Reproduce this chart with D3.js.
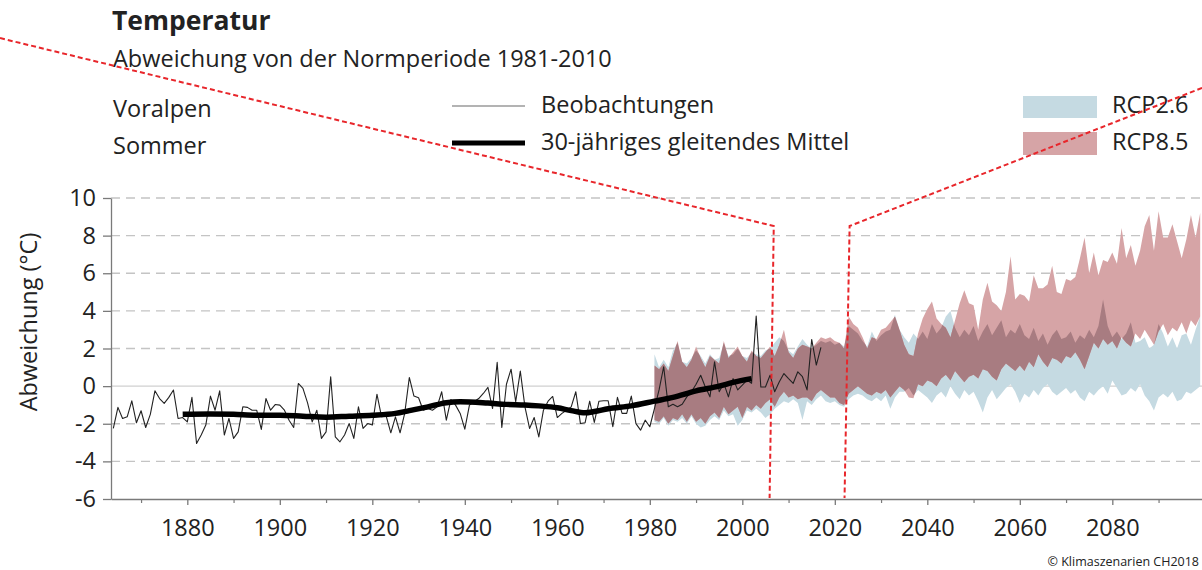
<!DOCTYPE html>
<html>
<head>
<meta charset="utf-8">
<script src="https://cdn.jsdelivr.net/npm/d3@7"></script>
<style>
  body { margin: 0; background: #fff; }
  svg text { font-family: "Open Sans", "Noto Sans", sans-serif; fill: #222; }
</style>
</head>
<body>
<svg id="chart" width="1202" height="570"></svg>
<script>
// observations, one value per summer from 1864
var obsStart = 1864;
var obsValues = [
  -2.25, -1.13, -1.72, -1.63, -0.78, -1.95, -1.31, -2.2, -1.5, -0.25,
  -0.66, -0.92, -0.6, -0.21, -1.72, -1.67, -1.9, -0.6, -3.05, -2.6,
  -2.07, -0.53, -1.28, -0.25, -2.6, -1.72, -2.78, -2.43, -1.1, -1.13,
  -1.28, -1.28, -2.3, -0.66, -1.28, -0.98, -1.01, -1.28, -1.81, -2.2,
  0.14, -0.12, -0.89, -1.9, -1.28, -2.78, -2.43, 0.5, -2.7, -2.96,
  -2.6, -1.99, -2.78, -1.1, -2.25, -1.99, -2.07, -0.43, -1.63, -1.6,
  -2.48, -1.63, -2.48, -1.45, 0.46, -0.53, -0.62, -1.28, -1.19, -1.28,
  -1.1, -0.3, -1.81, -0.71, -1.01, -1.45, -2.29, -1.01, -0.83, -0.66,
  -0.39, -0.07, -1.19, 1.26, -2.2, 0.1, 0.9, -0.83, 0.8, -1.1,
  -2.25, -1.67, -2.7, -1.28, -0.8, -0.55, -1.67, -1.45, -1.28, -1.1,
  -0.3, -1.99, -1.95, -0.8, -1.93, -0.8, -0.78, -0.78, -2.16, -0.6,
  -1.45, -1.45, -0.53, -1.99, -2.34, -1.81, -2.16, -1.2, -0.2, 1.03,
  -1.1, -0.96, -1.1, -0.96, -0.57, -0.3, 0.1, 0.58, -0.05, -0.57,
  1.29, -0.3, 0.15, -0.57, 0.4, -0.2, 0.05, 0.32, 0.15, 3.72,
  -0.05, -0.05, 0.58, -0.3, 0.23, 0.67, 0.4, 0.15, 0.76, 0.5,
  -0.2, 2.48, 1.12, 2.06
];

// 30-year running mean
var meanYears = [1879, 1885, 1890, 1895, 1900, 1905, 1910, 1915, 1920, 1925, 1928, 1932, 1936, 1939, 1945,
  1949, 1953, 1956, 1960, 1963, 1966, 1968, 1971, 1976, 1981, 1985, 1990, 1995, 1998, 2002];
var meanValues = [-1.5, -1.48, -1.5, -1.55, -1.55, -1.6, -1.65, -1.6, -1.55, -1.45, -1.3, -1.1, -0.88, -0.83, -0.9,
  -0.97, -1.0, -1.05, -1.15, -1.3, -1.42, -1.35, -1.2, -1.05, -0.8, -0.6, -0.25, 0.0, 0.2, 0.4];

// scenario ranges, one value per year from 1981
var scenStart = 1981;
var rcp85High = [
  1.1, 0.9, 1.2, 0.8, 1.6, 2.4, 1.3, 1.0, 1.4, 2.1,
  1.5, 1.0, 1.6, 1.4, 1.2, 2.4, 1.5, 1.8, 2.1, 1.6,
  1.3, 1.9, 1.6, 1.5, 1.8, 2.1, 1.6, 2.2, 3.0, 1.8,
  1.5, 2.0, 2.2, 2.1, 2.0, 2.3, 2.6, 2.5, 2.6, 2.4,
  2.3, 2.0, 3.7, 3.3, 3.1, 2.6, 2.0, 2.6, 2.5, 3.0,
  3.1, 3.4, 3.7, 3.0, 2.2, 1.7, 1.6, 2.8, 3.6, 4.1,
  4.5, 3.6, 3.3, 3.1, 2.6, 3.5, 4.4, 5.1, 4.4, 4.3,
  3.0, 4.6, 5.5, 4.5, 4.3, 4.0, 5.0, 6.9, 4.6, 4.9,
  4.8, 4.5, 5.9, 5.2, 5.2, 5.4, 6.4, 5.0, 4.9, 5.7,
  5.6, 5.8, 6.8, 7.9, 6.0, 7.1, 5.9, 6.7, 6.6, 7.1,
  6.5, 8.4, 6.8, 7.5, 6.4, 7.2, 8.5, 9.1, 7.2, 9.3,
  7.9, 7.9, 8.6, 7.7, 6.8, 7.8, 9.1, 7.9, 9.2
];
var rcp85Low = [
  -1.8, -1.9, -1.6, -2.0, -1.7, -1.8, -1.5, -1.9, -1.5, -1.9,
  -1.7, -2.0, -1.6, -1.4, -1.7, -1.1, -1.5, -1.3, -1.1, -1.7,
  -1.1, -1.3, -1.0, -1.2, -0.9, -0.7, -1.1, -0.6, -0.3, -0.6,
  -0.5, -0.7, -0.6, -0.6, -0.8, -0.4, -0.2, -0.4, -0.6, -0.6,
  -0.9, -1.0, -0.4, -0.2, 0.0, -0.2, -0.4, -0.5, -0.3, -0.4,
  -0.2, -0.6, -0.3, 0.0, -0.2, -0.6, -0.65, 0.1, 0.0, 0.3,
  0.2, 0.0, 0.4, 0.6, 0.3, 0.8, 0.5, 0.2, 0.5, 0.6,
  0.4, 0.9, 0.8, 0.5, 0.3, 0.9, 1.2, 1.0, 0.8, 1.1,
  0.8, 1.3, 1.0, 1.7, 1.3, 1.0, 1.5, 1.4, 1.2, 1.6,
  1.5, 1.8, 1.4, 0.9, 1.6, 2.3, 2.0, 2.5, 2.2, 2.4,
  2.0, 2.6, 2.3, 2.1, 2.8, 2.5, 3.0, 2.6, 2.2, 2.9,
  3.3, 2.7, 3.1, 2.9, 3.4, 2.8, 3.5, 3.2, 3.7
];
var rcp26High = [
  1.7, 1.0, 1.4, 1.0, 1.9, 2.3, 1.3, 1.2, 1.5, 1.9,
  1.6, 1.2, 1.7, 1.4, 1.5, 2.3, 1.6, 1.7, 2.0, 1.6,
  1.5, 1.8, 1.7, 1.6, 1.9, 2.0, 2.3, 2.6, 2.4, 1.9,
  1.7, 2.1, 2.5, 2.2, 2.0, 2.2, 2.4, 2.3, 2.4, 2.2,
  2.3, 2.1, 3.2, 3.0, 2.8, 2.4, 2.1, 2.9, 2.4, 2.7,
  2.9, 3.0, 3.8, 3.0, 2.6, 2.3, 2.8, 2.5, 2.9, 2.5,
  3.3, 2.8, 3.1, 3.7, 4.0, 3.1, 2.6, 3.0, 2.7, 3.2,
  2.4, 2.9, 3.3, 2.7, 3.1, 3.5, 2.6, 3.0, 2.8, 3.3,
  2.7, 2.5, 3.1, 2.4, 2.8, 2.2, 2.7, 3.0, 2.5, 2.6,
  2.9, 2.3, 2.7, 2.5, 3.0, 2.6, 3.2, 4.6, 3.2, 2.6,
  2.9, 2.5, 2.8, 3.4, 2.3, 2.4, 2.6, 2.0, 2.2, 3.3,
  2.8, 2.1, 2.6, 2.0, 2.7, 2.8, 2.2, 3.0, 3.7
];
var rcp26Low = [
  -1.9, -2.0, -1.7, -2.1, -1.8, -1.9, -1.7, -2.0, -1.6, -2.0,
  -2.2, -2.1, -1.8, -1.6, -1.8, -1.3, -1.6, -1.5, -2.1, -1.8,
  -1.3, -1.4, -1.2, -1.4, -1.7, -1.5, -1.2, -1.0, -0.8, -0.9,
  -0.7, -0.9, -1.8, -0.8, -1.0, -0.7, -0.5, -0.8, -0.9, -0.8,
  -1.0, -1.1, -0.7, -0.5, -0.4, -0.5, -0.7, -0.8, -0.6, -0.8,
  -0.5, -1.2, -0.6, -0.3, -0.3, -0.1, -0.5, -0.2, -0.4, -0.6,
  -0.9, -0.5, -0.3, -0.6, 0.0, -0.4, -0.7, -0.2, -0.5, -0.3,
  -0.8, -1.4, -0.6, -0.2, -0.7, -0.4, -0.1, 0.1, -0.3, -0.9,
  -0.4, -0.6, -0.2, -0.5, -0.1, 0.1, -0.3, -0.5, -0.3, -0.1,
  -0.4, -0.2, -0.6, -0.8, -0.3, -0.5, -0.2, 0.0, -0.4, 0.3,
  -0.1, -0.5, -0.4, -0.1, -0.3, 0.1, -0.5, -0.8, -1.3, -0.6,
  -0.4, -0.6, -0.3, -0.8, -0.7, -0.3, -0.4, -0.2, 0.0
];

var yTicks = [-6, -4, -2, 0, 2, 4, 6, 8, 10];
var xLabels = [1880, 1900, 1920, 1940, 1960, 1980, 2000, 2020, 2040, 2060, 2080];
var xMinor = [1870, 1890, 1910, 1930, 1950, 1970, 1990, 2010, 2030, 2050, 2070, 2090];

// red dashed markup drawn over the chart, in [year, value]
var markLeft = [[1839.5, 18.5], [2006.8, 8.51], [2005.9, -5.95]];
var markRight = [[2099.4, 15.85], [2023.2, 8.51], [2022.1, -5.95]];

var svg = d3.select("#chart");
var fs = "23.5px";

var x = d3.scaleLinear().domain([1863.5, 2099.5]).range([111, 1202.5]);
var y = d3.scaleLinear().domain([-6, 10]).range([499, 198]);

var obs = obsValues.map(function (v, i) { return { year: obsStart + i, v: v }; });
var mean = meanValues.map(function (v, i) { return { year: meanYears[i], v: v }; });
var scen = rcp85High.map(function (v, i) {
  return { year: scenStart + i, lo26: rcp26Low[i], hi26: rcp26High[i], lo85: rcp85Low[i], hi85: v };
});

// grid
svg.append("g")
  .selectAll("line")
  .data(yTicks.filter(function (d) { return d > -6; }))
  .enter().append("line")
  .attr("x1", x(1863.5)).attr("x2", 1202)
  .attr("y1", function (d) { return y(d); })
  .attr("y2", function (d) { return y(d); })
  .attr("stroke", function (d) { return d === 0 ? "#d0d0d0" : "#c4c4c4"; })
  .attr("stroke-width", 1.3)
  .attr("stroke-dasharray", function (d) { return d === 0 ? null : "9,6"; });

// scenario bands
var area26 = d3.area()
  .x(function (d) { return x(d.year); })
  .y0(function (d) { return y(d.lo26); })
  .y1(function (d) { return y(d.hi26); });
var area85 = d3.area()
  .x(function (d) { return x(d.year); })
  .y0(function (d) { return y(d.lo85); })
  .y1(function (d) { return y(d.hi85); });

svg.append("clipPath").attr("id", "clip26")
  .append("path").datum(scen).attr("d", area26);

svg.append("path").datum(scen).attr("d", area26).attr("fill", "#c5dae2");
svg.append("path").datum(scen).attr("d", area85).attr("fill", "#d6a4a6");
svg.append("path").datum(scen).attr("d", area85).attr("fill", "#a87c81")
  .attr("clip-path", "url(#clip26)");

// observations and running mean
var line = d3.line()
  .x(function (d) { return x(d.year); })
  .y(function (d) { return y(d.v); });

svg.append("path").datum(obs)
  .attr("d", line)
  .attr("fill", "none")
  .attr("stroke", "#222")
  .attr("stroke-width", 1.1)
  .attr("stroke-linejoin", "round");

svg.append("path").datum(mean)
  .attr("d", line.curve(d3.curveMonotoneX))
  .attr("fill", "none")
  .attr("stroke", "#000")
  .attr("stroke-width", 5.5)
  .attr("stroke-linecap", "butt");

// axes
var yAxis = svg.append("g")
  .attr("transform", "translate(111,0)")
  .call(d3.axisLeft(y).tickValues(yTicks).tickSize(8).tickSizeOuter(0).tickPadding(7)
    .tickFormat(function (d) { return String(d); }));
yAxis.select(".domain").attr("stroke", "#7a7a7a").attr("stroke-width", 1.3);
yAxis.selectAll(".tick line").attr("stroke", "#7a7a7a").attr("stroke-width", 1.3);
yAxis.selectAll("text").style("font-size", fs).attr("fill", "#222");

var xAxis = svg.append("g")
  .attr("transform", "translate(0,499)")
  .call(d3.axisBottom(x).tickValues(xLabels).tickSize(6).tickSizeOuter(0).tickPadding(14)
    .tickFormat(d3.format("d")));
xAxis.select(".domain").attr("stroke", "#7a7a7a").attr("stroke-width", 1.3);
xAxis.selectAll(".tick line").attr("stroke", "#7a7a7a").attr("stroke-width", 1.3);
xAxis.selectAll("text").style("font-size", fs).attr("fill", "#222");

svg.append("g")
  .attr("transform", "translate(0,499)")
  .call(d3.axisBottom(x).tickValues(xMinor).tickSize(4).tickSizeOuter(0).tickFormat(""))
  .call(function (g) { g.select(".domain").remove(); })
  .selectAll("line").attr("stroke", "#7a7a7a").attr("stroke-width", 1.2);

svg.append("text")
  .attr("transform", "translate(37,322)rotate(-90)")
  .attr("text-anchor", "middle")
  .style("font-size", fs)
  .text("Abweichung (°C)");

// titles
svg.append("text").attr("x", 112).attr("y", 30)
  .style("font-size", "26.5px").style("font-weight", "bold").attr("fill", "#111")
  .text("Temperatur");
svg.append("text").attr("x", 113).attr("y", 67)
  .style("font-size", fs)
  .text("Abweichung von der Normperiode 1981-2010");
svg.append("text").attr("x", 113).attr("y", 117).style("font-size", fs).text("Voralpen");
svg.append("text").attr("x", 113).attr("y", 154).style("font-size", fs).text("Sommer");

// legend
var legend = svg.append("g");
legend.append("line").attr("x1", 452).attr("x2", 525).attr("y1", 106).attr("y2", 106)
  .attr("stroke", "#9a9a9a").attr("stroke-width", 1.5);
legend.append("line").attr("x1", 452).attr("x2", 525).attr("y1", 143).attr("y2", 143)
  .attr("stroke", "#000").attr("stroke-width", 5);
legend.append("text").attr("x", 541).attr("y", 113).style("font-size", fs).text("Beobachtungen");
legend.append("text").attr("x", 541).attr("y", 150).style("font-size", fs).text("30-jähriges gleitendes Mittel");

legend.append("rect").attr("x", 1023).attr("y", 96).attr("width", 74).attr("height", 22).attr("fill", "#c5dae2");
legend.append("rect").attr("x", 1023).attr("y", 132).attr("width", 74).attr("height", 23).attr("fill", "#d6a4a6");
legend.append("text").attr("x", 1112).attr("y", 113).style("font-size", fs).text("RCP2.6");
legend.append("text").attr("x", 1112).attr("y", 150).style("font-size", fs).text("RCP8.5");

svg.append("text").attr("x", 1199).attr("y", 566).attr("text-anchor", "end")
  .style("font-size", "12.5px").attr("fill", "#333")
  .text("© Klimaszenarien CH2018");

// red dashed markup
var markLine = d3.line()
  .x(function (d) { return x(d[0]); })
  .y(function (d) { return y(d[1]); });
[markLeft, markRight].forEach(function (m) {
  svg.append("path").datum(m)
    .attr("d", markLine)
    .attr("fill", "none")
    .attr("stroke", "#e8262b")
    .attr("stroke-width", 2)
    .attr("stroke-dasharray", "5,3");
});
</script>
</body>
</html>
